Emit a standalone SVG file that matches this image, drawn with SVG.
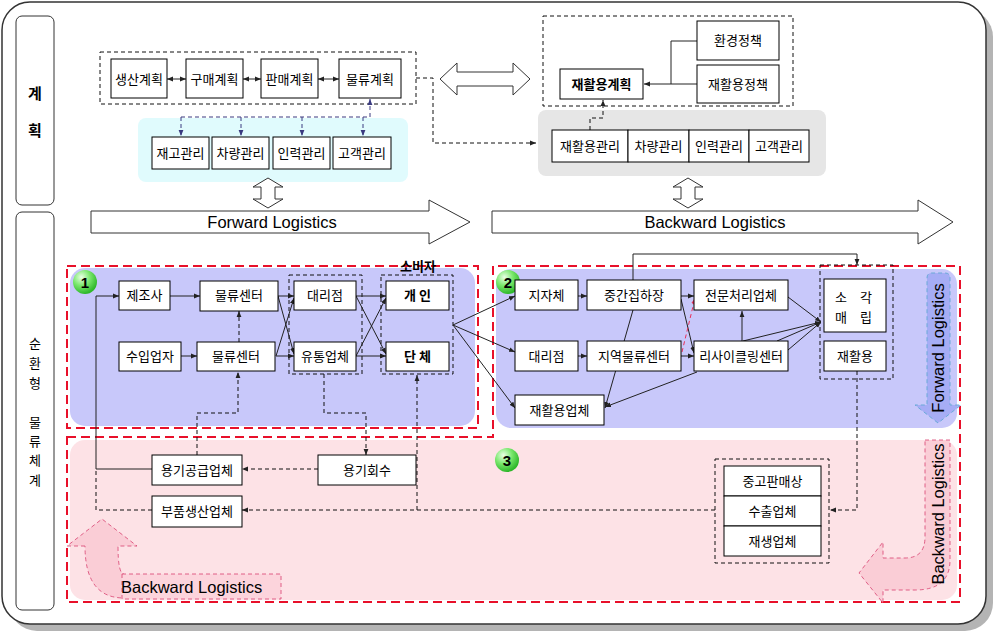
<svg xmlns="http://www.w3.org/2000/svg" width="995" height="634" viewBox="0 0 995 634">
<style>
text{font-family:"Noto Sans CJK KR","Liberation Sans",sans-serif;font-size:13px;fill:#000}
.en{font-family:"Liberation Sans","Noto Sans",sans-serif;font-size:16.5px}
.b{fill:#fff;stroke:#000;stroke-width:1}
.c{fill:none;stroke:#222;stroke-width:1}
.d{fill:none;stroke:#111;stroke-width:1;stroke-dasharray:4,3}
.bd{fill:none;stroke:#3a3a80;stroke-width:1;stroke-dasharray:4,3}
.rd{fill:none;stroke:#e8102a;stroke-width:2;stroke-dasharray:9,5}
.hollow{fill:#fff;stroke:#333;stroke-width:1}
.bold{font-weight:bold}
.num{font-family:"Liberation Sans",sans-serif;font-weight:bold;font-size:15px}
</style>
<defs>
<marker id="a" viewBox="0 0 10 10" refX="10" refY="5" markerWidth="6" markerHeight="6" orient="auto-start-reverse" markerUnits="userSpaceOnUse"><path d="M0,1 L10,5 L0,9 z" fill="#222"/></marker>
<marker id="ab" viewBox="0 0 10 10" refX="10" refY="5" markerWidth="6" markerHeight="6" orient="auto-start-reverse" markerUnits="userSpaceOnUse"><path d="M0,1 L10,5 L0,9 z" fill="#3a3a80"/></marker>
<marker id="ar" viewBox="0 0 10 10" refX="10" refY="5" markerWidth="6" markerHeight="6" orient="auto" markerUnits="userSpaceOnUse"><path d="M0,1 L10,5 L0,9 z" fill="#e8305a"/></marker>
<radialGradient id="g" cx="0.35" cy="0.3" r="0.7"><stop offset="0" stop-color="#eaffe6"/><stop offset="0.5" stop-color="#7be86e"/><stop offset="1" stop-color="#2fb82a"/></radialGradient>
</defs>

<!-- frame -->
<rect x="9" y="9" width="984" height="622" rx="28" fill="#b4b4b4"/>
<rect x="2" y="2" width="984" height="622" rx="28" fill="#fff" stroke="#333" stroke-width="1.5"/>

<g id="side-plan"><rect x="16" y="16" width="38" height="189" rx="6" fill="#fff" stroke="#333"/>
<text x="35" y="99" text-anchor="middle" class="bold" style="font-size:15px">계</text>
<text x="35" y="136" text-anchor="middle" class="bold" style="font-size:15px">획</text></g>
<g id="side-system"><rect x="16" y="212" width="38" height="398" rx="6" fill="#fff" stroke="#333"/>
<g style="font-size:14px" text-anchor="middle">
<text x="35" y="348">순</text><text x="35" y="368">환</text><text x="35" y="388">형</text>
<text x="35" y="427">물</text><text x="35" y="446">류</text><text x="35" y="465">체</text><text x="35" y="485">계</text></g></g>

<!-- backgrounds -->
<rect x="138" y="118" width="270" height="64" rx="8" fill="#e0fbfd"/>
<rect x="538" y="110" width="288" height="66" rx="8" fill="#e6e6e6"/>
<rect x="70" y="268" width="405" height="158" rx="15" fill="#c8c8fa"/>
<rect x="496" y="269" width="461" height="159" rx="15" fill="#c8c8fa"/>
<rect x="70" y="440" width="887" height="160" rx="15" fill="#fde2e6"/>
<rect x="67" y="266" width="411" height="162" class="rd"/>
<path d="M67,437 H493 V266 H960 V602 H67 Z" class="rd"/>

<!-- big arrows -->
<g id="arrows-big">
<polygon class="hollow" points="91,211 429,211 429,200 470,222 429,244 429,233 91,233"/>
<text class="en" x="272" y="228" text-anchor="middle">Forward Logistics</text>
<polygon class="hollow" points="492,211 918,211 918,200 953,222 918,244 918,233 492,233"/>
<text class="en" x="715" y="228" text-anchor="middle">Backward Logistics</text>
<polygon class="hollow" points="440,79 457,63 457,72 513,72 513,63 530,79 513,95 513,86 457,86 457,95"/>
<polygon class="hollow" points="268,178 283,187 275,187 275,199 283,199 268,208 253,199 261,199 261,187 253,187"/>
<polygon class="hollow" points="688,178 703,187 695,187 695,199 703,199 688,208 673,199 681,199 681,187 673,187"/>
<path d="M927,278 Q927,273 932,273 H945 Q950,273 950,278 V405 H961 L938,423 L915,405 H927 Z" fill="#9ea6f4" fill-opacity="0.8" stroke="#6aaad8" stroke-dasharray="4,3"/>
<text class="en" transform="translate(944,348) rotate(-90)" text-anchor="middle">Forward Logistics</text>
<path d="M925,440 H950 V560 Q950,590 915,590 H883 V603 L859,573 L883,542 V558 H905 Q925,558 925,537 Z" fill="#f8c6d0" fill-opacity="0.75" stroke="#d84070" stroke-width="0.8" stroke-dasharray="4,3"/>
<text class="en" transform="translate(944,514) rotate(-90)" text-anchor="middle">Backward Logistics</text>
<path d="M85,546 H67 L102,519 L137,546 H118 Q118,574 124,574 V598 Q85,598 85,546 Z" fill="#f8c6d0" fill-opacity="0.75" stroke="#d84070" stroke-width="0.8" stroke-dasharray="4,3"/>
<rect x="122" y="574" width="159" height="25" fill="#fcd4dc" stroke="#d84070" stroke-width="0.8" stroke-dasharray="4,3"/>
<text class="en" x="121" y="593" style="font-size:16.5px">Backward Logistics</text>
</g>

<!-- dashed group boxes -->
<rect x="100" y="52" width="316" height="52" class="d"/>
<rect x="543" y="16" width="250" height="90" class="d"/>
<rect x="289" y="275" width="73" height="99" class="d"/>
<rect x="381" y="275" width="72" height="99" class="d"/>
<rect x="820" y="265" width="73" height="114" class="d"/>
<rect x="715" y="459" width="114" height="104" class="d"/>

<g id="connectors">
<line x1="167" y1="79" x2="186" y2="79" class="c" marker-start="url(#a)" marker-end="url(#a)"/>
<line x1="243" y1="79" x2="261" y2="79" class="c" marker-start="url(#a)" marker-end="url(#a)"/>
<line x1="318" y1="79" x2="339" y2="79" class="c" marker-start="url(#a)" marker-end="url(#a)"/>
<polyline points="416,78 433,78 433,143 536,143" class="d" marker-end="url(#a)"/>
<line x1="370" y1="117" x2="370" y2="99" class="bd" marker-end="url(#ab)"/>
<line x1="181" y1="117" x2="370" y2="117" class="bd"/>
<line x1="181" y1="117" x2="181" y2="136" class="bd" marker-end="url(#ab)"/>
<line x1="241" y1="117" x2="241" y2="136" class="bd" marker-end="url(#ab)"/>
<line x1="302" y1="117" x2="302" y2="136" class="bd" marker-end="url(#ab)"/>
<line x1="363" y1="117" x2="363" y2="136" class="bd" marker-end="url(#ab)"/>
<polyline points="697,41 671,41 671,84" class="c"/>
<line x1="697" y1="84" x2="644" y2="84" class="c" marker-end="url(#a)"/>
<polyline points="590,130 590,118 603,118 603,100" class="d" marker-end="url(#a)"/>

<line x1="170" y1="296" x2="200" y2="296" class="c" marker-end="url(#a)"/>
<line x1="181" y1="356" x2="197" y2="356" class="c" marker-end="url(#a)"/>
<line x1="278" y1="296" x2="294" y2="296" class="c" marker-end="url(#a)"/>
<line x1="278" y1="296" x2="294" y2="354" class="c" marker-end="url(#a)"/>
<line x1="276" y1="356" x2="294" y2="298" class="c" marker-end="url(#a)"/>
<line x1="276" y1="356" x2="294" y2="356" class="c" marker-end="url(#a)"/>
<line x1="356" y1="296" x2="386" y2="296" class="c" marker-end="url(#a)"/>
<line x1="356" y1="296" x2="386" y2="354" class="c" marker-end="url(#a)"/>
<line x1="356" y1="356" x2="386" y2="298" class="c" marker-end="url(#a)"/>
<line x1="356" y1="356" x2="386" y2="356" class="c" marker-end="url(#a)"/>
<line x1="453" y1="325" x2="515" y2="296" class="c" marker-end="url(#a)"/>
<line x1="453" y1="325" x2="515" y2="352" class="c" marker-end="url(#a)"/>
<line x1="453" y1="325" x2="515" y2="408" class="c" marker-end="url(#a)"/>
<polyline points="152,469 96,469 96,296 119,296" class="c" marker-end="url(#a)"/>

<line x1="239" y1="342" x2="239" y2="311" class="d" marker-end="url(#a)"/>
<polyline points="197,455 197,413 238,413 238,372" class="d" marker-end="url(#a)"/>
<polyline points="324,374 324,413 366,413 366,455" class="d" marker-end="url(#a)"/>
<line x1="318" y1="469" x2="242" y2="469" class="d" marker-end="url(#a)"/>
<line x1="715" y1="510" x2="242" y2="510" class="d" marker-end="url(#a)"/>
<line x1="417" y1="510" x2="417" y2="375" class="d" marker-end="url(#a)"/>
<polyline points="152,510 96,510 96,469" class="d"/>
<polyline points="857,371 857,510 830,510" class="d" marker-end="url(#a)"/>

<line x1="578" y1="296" x2="587" y2="296" class="c" marker-end="url(#a)"/>
<line x1="578" y1="356" x2="587" y2="356" class="c" marker-end="url(#a)"/>
<line x1="681" y1="296" x2="694" y2="296" class="c" marker-end="url(#a)"/>
<line x1="681" y1="299" x2="694" y2="353" class="c" marker-end="url(#a)"/>
<line x1="681" y1="356" x2="694" y2="356" class="c" marker-end="url(#a)"/>
<line x1="742" y1="341" x2="742" y2="311" class="c" marker-end="url(#a)"/>
<line x1="788" y1="297" x2="821" y2="322" class="c" marker-end="url(#a)"/>
<line x1="743" y1="341" x2="821" y2="322" class="c" marker-end="url(#a)"/>
<line x1="777" y1="341" x2="821" y2="322" class="c" marker-end="url(#a)"/>
<line x1="788" y1="350" x2="821" y2="322" class="c" marker-end="url(#a)"/>
<line x1="633" y1="310" x2="605" y2="408" class="c" marker-end="url(#a)"/>
<line x1="697" y1="372" x2="605" y2="407" class="c" marker-end="url(#a)"/>
<polyline points="633,280 633,254 857,254 857,265" class="c" marker-end="url(#a)"/>
<line x1="682" y1="352" x2="695" y2="298" fill="none" stroke="#e8305a" stroke-dasharray="4,3" marker-end="url(#ar)"/>
</g>

<!-- planning nodes -->
<g id="n-saengsan"><rect class="b" x="111" y="59" width="56" height="39"/><text x="139" y="84" text-anchor="middle">생산계획</text></g>
<g id="n-gumae"><rect class="b" x="186" y="59" width="57" height="39"/><text x="214.5" y="84" text-anchor="middle">구매계획</text></g>
<g id="n-panmae"><rect class="b" x="261" y="59" width="57" height="39"/><text x="289.5" y="84" text-anchor="middle">판매계획</text></g>
<g id="n-mulryu"><rect class="b" x="339" y="59" width="62" height="39"/><text x="370" y="84" text-anchor="middle">물류계획</text></g>
<g id="n-jaego"><rect class="b" x="152" y="137" width="57" height="32"/><text x="180.5" y="158" text-anchor="middle">재고관리</text></g>
<g id="n-charyang"><rect class="b" x="212" y="137" width="57" height="32"/><text x="240.5" y="158" text-anchor="middle">차량관리</text></g>
<g id="n-inryeok"><rect class="b" x="273" y="137" width="57" height="32"/><text x="301.5" y="158" text-anchor="middle">인력관리</text></g>
<g id="n-gogaek"><rect class="b" x="333" y="137" width="58" height="32"/><text x="362" y="158" text-anchor="middle">고객관리</text></g>

<g id="n-recplan"><rect class="b" x="560" y="69" width="83" height="30"/><text x="601.5" y="89" text-anchor="middle" class="bold">재활용계획</text></g>
<g id="n-env"><rect class="b" x="697" y="21" width="82" height="39"/><text x="738" y="45" text-anchor="middle">환경정책</text></g>
<g id="n-recpol"><rect class="b" x="697" y="65" width="82" height="38"/><text x="738" y="89" text-anchor="middle">재활용정책</text></g>
<g id="n-recman"><rect class="b" x="552" y="130" width="76" height="32"/><text x="590" y="151" text-anchor="middle">재활용관리</text></g>
<g id="n-charyang2"><rect class="b" x="628" y="130" width="61" height="32"/><text x="658.5" y="151" text-anchor="middle">차량관리</text></g>
<g id="n-inryeok2"><rect class="b" x="689" y="130" width="60" height="32"/><text x="719" y="151" text-anchor="middle">인력관리</text></g>
<g id="n-gogaek2"><rect class="b" x="749" y="130" width="60" height="32"/><text x="779" y="151" text-anchor="middle">고객관리</text></g>

<!-- section 1 -->
<g id="badge1"><circle cx="85" cy="282" r="12" fill="url(#g)"/><text class="num" x="85" y="287.5" text-anchor="middle">1</text></g>
<g id="n-jejosa"><rect class="b" x="119" y="281" width="51" height="29"/><text x="144.5" y="300" text-anchor="middle">제조사</text></g>
<g id="n-center1"><rect class="b" x="200" y="281" width="78" height="30"/><text x="239" y="300" text-anchor="middle">물류센터</text></g>
<g id="n-suip"><rect class="b" x="119" y="342" width="62" height="29"/><text x="150" y="361" text-anchor="middle">수입업자</text></g>
<g id="n-center2"><rect class="b" x="197" y="342" width="78" height="29"/><text x="236" y="361" text-anchor="middle">물류센터</text></g>
<g id="n-daeri1"><rect class="b" x="294" y="281" width="62" height="29"/><text x="325" y="300" text-anchor="middle">대리점</text></g>
<g id="n-yutong"><rect class="b" x="294" y="342" width="62" height="29"/><text x="325" y="361" text-anchor="middle">유통업체</text></g>
<g id="n-gaein"><rect class="b" x="386" y="281" width="63" height="29"/><text x="417.5" y="300" text-anchor="middle" class="bold">개 인</text></g>
<g id="n-danche"><rect class="b" x="386" y="342" width="63" height="29"/><text x="417.5" y="361" text-anchor="middle" class="bold">단 체</text></g>
<text x="418" y="271" text-anchor="middle" class="bold">소비자</text>

<!-- section 2 -->
<g id="badge2"><circle cx="508" cy="282" r="12" fill="url(#g)"/><text class="num" x="508" y="287.5" text-anchor="middle">2</text></g>
<g id="n-jijache"><rect class="b" x="515" y="280" width="63" height="30"/><text x="546.5" y="300" text-anchor="middle">지자체</text></g>
<g id="n-junggan"><rect class="b" x="587" y="280" width="94" height="30"/><text x="634" y="300" text-anchor="middle">중간집하장</text></g>
<g id="n-jeonmun"><rect class="b" x="694" y="280" width="94" height="30"/><text x="741" y="300" text-anchor="middle">전문처리업체</text></g>
<g id="n-daeri2"><rect class="b" x="515" y="341" width="63" height="30"/><text x="546.5" y="361" text-anchor="middle">대리점</text></g>
<g id="n-jiyeok"><rect class="b" x="587" y="341" width="94" height="30"/><text x="634" y="361" text-anchor="middle">지역물류센터</text></g>
<g id="n-recycle"><rect class="b" x="694" y="341" width="94" height="30"/><text x="741" y="361" text-anchor="middle">리사이클링센터</text></g>
<g id="n-recfirm"><rect class="b" x="515" y="395" width="89" height="30"/><text x="559.5" y="415" text-anchor="middle">재활용업체</text></g>
<g id="n-sogak"><rect class="b" x="824" y="279" width="62" height="53"/>
<text x="841" y="302" text-anchor="middle">소</text><text x="866" y="302" text-anchor="middle">각</text>
<text x="841" y="322" text-anchor="middle">매</text><text x="866" y="322" text-anchor="middle">립</text></g>
<g id="n-reuse"><rect class="b" x="824" y="341" width="62" height="30"/><text x="855" y="361" text-anchor="middle">재활용</text></g>

<!-- section 3 -->
<g id="badge3"><circle cx="507" cy="460" r="12" fill="url(#g)"/><text class="num" x="507" y="465.5" text-anchor="middle">3</text></g>
<g id="n-yonggi"><rect class="b" x="152" y="455" width="90" height="30"/><text x="197" y="475" text-anchor="middle">용기공급업체</text></g>
<g id="n-hoesu"><rect class="b" x="318" y="455" width="98" height="30"/><text x="367" y="475" text-anchor="middle">용기회수</text></g>
<g id="n-bupum"><rect class="b" x="152" y="496" width="90" height="31"/><text x="197" y="516" text-anchor="middle">부품생산업체</text></g>
<g id="n-junggo"><rect class="b" x="724" y="466" width="97" height="30"/><text x="772.5" y="486" text-anchor="middle">중고판매상</text></g>
<g id="n-suchul"><rect class="b" x="724" y="496" width="97" height="30"/><text x="772.5" y="516" text-anchor="middle">수출업체</text></g>
<g id="n-jaesaeng"><rect class="b" x="724" y="526" width="97" height="30"/><text x="772.5" y="546" text-anchor="middle">재생업체</text></g>
</svg>
